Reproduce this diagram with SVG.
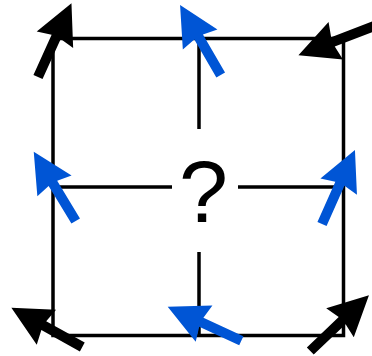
<svg xmlns="http://www.w3.org/2000/svg" xmlns:xlink="http://www.w3.org/1999/xlink" width="372" height="356" viewBox="0 0 372 356">
<style>
.ln{stroke:#000;stroke-width:3.5;fill:none}
.k{fill:#000}
.b{fill:#0055d5}
.q{font-family:"Liberation Sans",Arial,sans-serif;font-size:88px;fill:#000;text-anchor:middle}
</style>
<defs>
<path id="arr" d="M0,-5 L44,-5 L41,-20 L81,0 L41,20 L44,5 L0,5 Z"/>
</defs>
<rect width="372" height="356" fill="#fff"/>
<g id="grid">
<rect class="ln" x="53" y="38.5" width="290.5" height="297"/>
<line class="ln" x1="199" y1="38.5" x2="199" y2="129"/>
<line class="ln" x1="199" y1="252" x2="199" y2="335.5"/>
<line class="ln" x1="53" y1="187" x2="172" y2="187"/>
<line class="ln" x1="238" y1="187" x2="343.5" y2="187"/>
</g>
<text id="q" class="q" x="203.5" y="222">?</text>
<g id="arrows">
<use xlink:href="#arr" class="k" transform="translate(38,77) rotate(-65.6)"/>
<use xlink:href="#arr" class="b" transform="translate(220.7,75) rotate(-120.1)"/>
<use xlink:href="#arr" class="k" transform="translate(374,26) rotate(158.9)"/>
<use xlink:href="#arr" class="b" transform="translate(75.7,221) rotate(-121.2)"/>
<use xlink:href="#arr" class="b" transform="translate(322,224) rotate(-66)"/>
<use xlink:href="#arr" class="k" transform="translate(82.3,347) rotate(-151.1)"/>
<use xlink:href="#arr" class="b" transform="translate(241.3,340.7) rotate(-155.3)"/>
<use xlink:href="#arr" class="k" transform="translate(310.3,351) rotate(-43.6)"/>
</g>
</svg>
